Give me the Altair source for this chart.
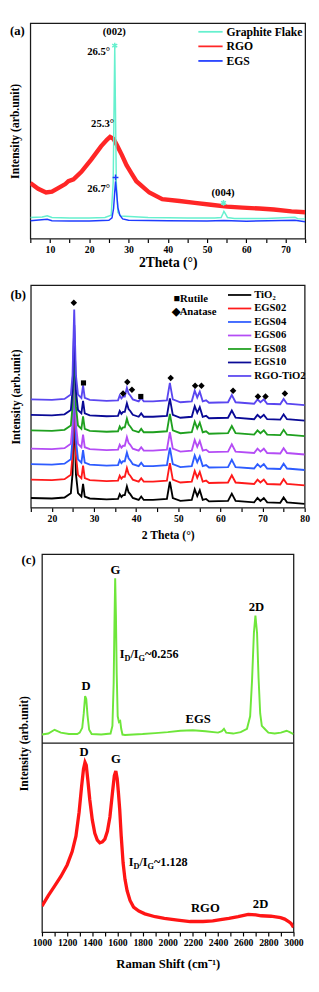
import altair as alt
import pandas as pd

FONT = "Liberation Serif"
INK = "#1a1a1a"

# ================= (a) XRD: graphite flake / RGO / EGS =================
a_series = ["Graphite Flake", "RGO", "EGS"]
a_colors = ["#66F0CE", "#FF2626", "#1F3CFF"]

a_gf_x = [5, 8, 9.3, 10.5, 15, 20, 24, 25.6, 26.1, 26.35, 26.5, 26.65, 26.9, 27.3, 28, 35, 45, 52,
          53.6, 54.1, 54.3, 54.6, 55.2, 57, 65, 72.4, 73.2, 75]
a_gf_y = [22.5, 23, 24.3, 22.5, 22, 22, 22.5, 25, 60, 150, 204, 150, 60, 28, 24, 22.5, 22, 22,
          22.5, 27, 29, 27, 22.5, 21.5, 21.5, 22.7, 21, 21]

a_rgo_x = [5, 7, 9, 10.5, 12.2, 13.9, 14.7, 16, 18, 20.5, 23, 24.5, 25.3, 26.2, 27.1, 28.3, 29.5,
           30.8, 32, 35.3, 38.6, 43, 46.9, 51, 55.1, 59, 63.3, 67, 71.5, 75]
a_rgo_y = [59, 53, 49, 50, 54, 58, 61, 63, 71, 84, 98, 105, 108, 106, 99, 89, 78,
           69, 61, 49, 42, 40, 38, 36, 34, 33, 32, 31, 29, 28]

a_egs_x = [5, 9.3, 10.5, 15, 20, 25, 25.8, 26.2, 26.5, 26.7, 26.95, 27.3, 27.8, 28.5, 30, 40, 50,
           54.3, 60, 72.4, 75]
a_egs_y = [19, 20.5, 19, 18.7, 18.7, 19.5, 22, 32, 50, 61, 50, 33, 25, 21, 19.5, 19, 18.7,
           19.3, 18.5, 19.5, 18]

a_ann_text = ["(002)", "26.5°", "25.3°", "26.7°", "(004)"]
a_ann_x = [26.4, 22.4, 23.4, 22.4, 54.1]
a_ann_y = [219, 198, 122, 53, 48]

a_mark_series = ["Graphite Flake", "EGS", "Graphite Flake"]
a_mark_kind = ["*", "+", "*"]
a_mark_x = [26.5, 26.7, 54.2]
a_mark_y = [205, 65, 38]

# ================= (b) XRD: TiO2 composites =================
b_series = ["TiO₂", "EGS02", "EGS04", "EGS06", "EGS08", "EGS10", "RGO-TiO2"]
b_colors = ["#000000", "#FF1A1A", "#2E5CFF", "#B44CF5", "#1FA01F", "#0A0A96", "#5A46F0"]

b_x = [15, 20, 23, 24.5, 24.9, 25.3, 25.7, 26.2, 27.0, 27.4, 27.8, 29, 33, 35.7, 36.1, 36.5, 36.9,
       37.3, 37.8, 38.2, 38.6, 39.2, 40.6, 41.2, 41.8, 44, 47.3, 48.0, 48.7, 50.5, 53.2, 53.9, 54.5,
       55.1, 55.8, 56.6, 57.3, 61.8, 62.7, 63.6, 68.0, 68.8, 69.5, 70.3, 71.1, 74.2, 75.0, 75.8, 80]

b_tio2 = [10, 9.5, 10.5, 15, 35, 103, 35, 15, 11.5, 24.5, 11.5, 9.5, 8.5, 9, 14, 11, 13, 13, 22, 16,
          14, 10, 8, 11.5, 8, 8, 9, 27, 10, 7, 8, 19, 12, 18, 8, 9, 6.5, 7, 14.5, 7, 5.5, 10, 7, 10,
          5.5, 5, 10.5, 5.5, 4]
b_egs02 = [29, 28.5, 29.5, 34, 54, 122, 54, 34, 30.5, 43.5, 30.5, 28.5, 27.5, 28, 33, 30, 32, 32, 41,
           35, 33, 29, 27, 30.5, 27, 27, 28, 46, 29, 26, 27, 38, 31, 37, 27, 28, 25.5, 26, 33.5, 26,
           24.5, 29, 26, 29, 24.5, 24, 29.5, 24.5, 23]
b_egs04 = [45, 44.5, 45.5, 50, 70, 138, 70, 50, 46.5, 59.5, 46.5, 44.5, 43.5, 44, 49, 46, 48, 48, 57,
           51, 49, 45, 43, 46.5, 43, 43, 44, 62, 45, 42, 43, 54, 47, 53, 43, 44, 41.5, 42, 49.5, 42,
           40.5, 45, 42, 45, 40.5, 40, 45.5, 40.5, 39]
b_egs06 = [61, 60.5, 61.5, 66, 86, 154, 86, 66, 62.5, 75.5, 62.5, 60.5, 59.5, 60, 65, 62, 64, 64, 73,
           67, 65, 61, 59, 62.5, 59, 59, 60, 78, 61, 58, 59, 70, 63, 69, 59, 60, 57.5, 58, 65.5, 58,
           56.5, 61, 58, 61, 56.5, 56, 61.5, 56.5, 55]
b_egs08 = [80, 79.5, 80.5, 85, 105, 173, 105, 85, 81.5, 94.5, 81.5, 79.5, 78.5, 79, 84, 81, 83, 83, 92,
           86, 84, 80, 78, 81.5, 78, 78, 79, 97, 80, 77, 78, 89, 82, 88, 78, 79, 76.5, 77, 84.5, 77,
           75.5, 80, 77, 80, 75.5, 75, 80.5, 75.5, 74]
b_egs10 = [96, 95.5, 96.5, 101, 121, 189, 121, 101, 97.5, 110.5, 97.5, 95.5, 94.5, 95, 100, 97, 99, 99,
           108, 102, 100, 96, 94, 97.5, 94, 94, 95, 113, 96, 93, 94, 105, 98, 104, 94, 95, 92.5, 93,
           100.5, 93, 91.5, 96, 93, 96, 91.5, 91, 96.5, 91.5, 90]
b_rgotio2 = [112, 111.5, 112.5, 117, 137, 205, 137, 117, 113.5, 126.5, 113.5, 111.5, 110.5, 111, 116,
             113, 115, 115, 124, 118, 116, 112, 110, 113.5, 110, 110, 111, 129, 112, 109, 110, 121,
             114, 120, 110, 111, 108.5, 109, 116.5, 109, 107.5, 112, 109, 112, 107.5, 107, 112.5,
             107.5, 106]

b_dia_x = [25.2, 36.9, 37.9, 39.0, 48.2, 54.0, 55.5, 63.0, 68.9, 70.7, 75.3]
b_dia_y = [212, 118, 130, 122, 134, 126, 126, 121, 115, 115, 118]
b_sq_x = [27.5, 41.1]
b_sq_y = [129, 115]
b_key_text = ["■Rutile", "◆Anatase"]

# ================= (c) Raman =================
c_series = ["EGS", "RGO"]
c_colors = ["#6EE63A", "#FF1515"]

c_egs_x = [1000, 1050, 1100, 1150, 1214, 1280, 1300, 1320, 1332, 1343, 1352, 1362, 1375, 1395, 1471,
           1545, 1560, 1570, 1576, 1582, 1588, 1594, 1602, 1612, 1622, 1630, 1640, 1660, 1728, 1800,
           1900, 2000, 2100, 2200, 2300, 2400, 2430, 2447, 2465, 2520, 2580, 2630, 2655, 2670, 2685,
           2697, 2710, 2722, 2735, 2748, 2770, 2800, 2850, 2900, 2945, 2970, 3000]
c_egs_y = [206, 207, 211, 208, 206.5, 206.5, 208, 213, 228, 246, 243, 226, 211, 206.5, 206,
           207, 215, 260, 320, 369, 330, 270, 225, 219, 220, 212, 206, 205.5, 206, 206.5,
           207.5, 208.5, 210, 210.5, 209.5, 208, 209.5, 212, 208, 207, 208.5, 212, 225, 262, 312,
           330, 312, 265, 228, 215, 212, 208, 207, 208, 210, 208.5, 206.5]

c_rgo_x = [1000, 1050, 1100, 1150, 1200, 1240, 1270, 1295, 1315, 1330, 1342, 1352, 1365, 1380, 1400,
           1420, 1440, 1460, 1480, 1500, 1520, 1540, 1560, 1575, 1587, 1598, 1608, 1618, 1630, 1645,
           1660, 1677, 1700, 1728, 1770, 1818, 1900, 1973, 2078, 2178, 2280, 2358, 2420, 2486, 2560,
           2640, 2700, 2743, 2820, 2897, 2930, 2961, 2980, 3000]
c_rgo_y = [27, 38, 48, 58, 70, 84, 100, 125, 152, 170, 177, 174, 158, 138, 117,
           103, 96, 93, 94, 97, 105, 120, 145, 163, 168, 160, 145, 128, 100, 72,
           55, 43, 33, 26, 22, 19, 16, 14.3, 12.5, 11, 11, 11.7, 13, 14.3, 16,
           18.5, 18, 17, 16.5, 15, 13.5, 11, 9, 5]
c_split = [197]

c_ann_text = ["G", "D", "2D", "EGS", "D", "G", "RGO", "2D"]
c_ann_x = [1584, 1351, 2705, 2242, 1335, 1587, 2299, 2738]
c_ann_y = [377, 257, 339, 222, 188, 180, 25, 29]

c_ratio_value = ["0.256", "1.128"]
c_ratio_x = [1618, 1690]
c_ratio_y = [286, 69]

# ================= helpers =================
ASTER = "M0,-1L0,1M-0.87,-0.5L0.87,0.5M-0.87,0.5L0.87,-0.5"
PLUS = "M-1,0L1,0M0,-1L0,1"


def series_df(xs, ys, name, key):
    return pd.DataFrame({"x": xs, "y": ys, key: name})


def x_axis(title, values, every, title_size, title_pad):
    return alt.Axis(title=title, values=values, format="d",
                    labelExpr=f"datum.value % {every} === 0 ? datum.label : ''",
                    titleFontSize=title_size, titlePadding=title_pad)


def y_axis(pad):
    return alt.Axis(title="Intensity (arb.unit)", labels=False, ticks=False, domain=False,
                    titlePadding=pad)


def texts(df, size, **kw):
    return alt.Chart(df).mark_text(font=FONT, fontWeight="bold", fontSize=size, color="black", **kw)


def legend_layers(names, color_enc, key, x1, x2, xt, y0, dy, size):
    df = pd.DataFrame({key: names, "i": list(range(len(names)))})
    base = alt.Chart(df).transform_calculate(ly=f"{y0} + datum.i * {dy}")
    ry = alt.Y("ly:Q", scale=None, axis=None)
    rule = base.mark_rule(strokeWidth=1.8).encode(
        x=alt.value(x1), x2=alt.value(x2), y=ry, color=color_enc)
    txt = base.mark_text(font=FONT, fontWeight="bold", fontSize=size, color="black",
                         align="left", baseline="middle").encode(
        x=alt.value(xt), y=ry, text=f"{key}:N")
    return [rule, txt]


def panel_label(tag, y):
    return texts(pd.DataFrame({"t": [tag]}), 13, align="left", baseline="middle").encode(
        x=alt.value(-21), y=alt.value(y), text="t:N")


# ================= panel (a) =================
xa = alt.X("x:Q", scale=alt.Scale(domain=[5, 75], nice=False, zero=False),
           axis=x_axis("2Theta (°)", list(range(5, 80, 5)), 10, 14, 2))
ya = alt.Y("y:Q", scale=alt.Scale(domain=[0, 229], nice=False, zero=False), axis=y_axis(9))
ca = alt.Color("sa:N", scale=alt.Scale(domain=a_series, range=a_colors), legend=None)

a_layers = []
for xs, ys, name, w in [(a_rgo_x, a_rgo_y, "RGO", 4.5),
                        (a_gf_x, a_gf_y, "Graphite Flake", 1.5),
                        (a_egs_x, a_egs_y, "EGS", 1.5)]:
    a_layers.append(alt.Chart(series_df(xs, ys, name, "sa")).mark_line(strokeWidth=w, clip=True)
                    .encode(x=xa, y=ya, color=ca))
a_marks = pd.DataFrame({"x": a_mark_x, "y": a_mark_y, "sa": a_mark_series, "m": a_mark_kind})
a_layers.append(alt.Chart(a_marks).mark_point(filled=False, strokeWidth=1.5, size=36, opacity=1)
                .encode(x=xa, y=ya, color=ca,
                        shape=alt.Shape("m:N", scale=alt.Scale(domain=["*", "+"], range=[ASTER, PLUS]),
                                        legend=None)))
a_layers.append(texts(pd.DataFrame({"x": a_ann_x, "y": a_ann_y, "t": a_ann_text}), 11)
                .encode(x=xa, y=ya, text="t:N"))
a_layers += legend_layers(a_series, ca, "sa", 173, 198, 202, 9, 15, 12)
a_layers.append(panel_label("(a)", 8))
panel_a = alt.layer(*a_layers).properties(width=283, height=222)

# ================= panel (b) =================
xb = alt.X("x:Q", scale=alt.Scale(domain=[15, 80], nice=False, zero=False),
           axis=x_axis("2 Theta (°)", list(range(15, 85, 5)), 10, 12, 7))
yb = alt.Y("y:Q", scale=alt.Scale(domain=[0, 230], nice=False, zero=False), axis=y_axis(9))
cb = alt.Color("sb:N", scale=alt.Scale(domain=b_series, range=b_colors), legend=None)

b_all = [b_tio2, b_egs02, b_egs04, b_egs06, b_egs08, b_egs10, b_rgotio2]
b_layers = []
for name, ys in zip(b_series, b_all):
    b_layers.append(alt.Chart(series_df(b_x, ys, name, "sb")).mark_line(strokeWidth=1.9, clip=True)
                    .encode(x=xb, y=yb, color=cb))
b_layers.append(alt.Chart(pd.DataFrame({"x": b_dia_x, "y": b_dia_y}))
                .mark_point(shape="diamond", filled=True, color="black", size=45, opacity=1)
                .encode(x=xb, y=yb))
b_layers.append(alt.Chart(pd.DataFrame({"x": b_sq_x, "y": b_sq_y}))
                .mark_point(shape="square", filled=True, color="black", size=28, opacity=1)
                .encode(x=xb, y=yb))
b_layers.append(texts(pd.DataFrame({"t": [b_key_text[0]]}), 11, align="left", baseline="middle")
                .encode(x=alt.value(147), y=alt.value(14), text="t:N"))
b_layers.append(texts(pd.DataFrame({"t": [b_key_text[1]]}), 11, align="left", baseline="middle")
                .encode(x=alt.value(145), y=alt.value(28), text="t:N"))
b_layers += legend_layers(b_series, cb, "sb", 203, 227, 230, 10, 13.9, 11)
b_layers.append(panel_label("(b)", 10))
panel_b = alt.layer(*b_layers).properties(width=282, height=229)

# ================= panel (c) =================
xc = alt.X("x:Q", scale=alt.Scale(domain=[1000, 3000], nice=False, zero=False),
           axis=x_axis("Raman Shift (cm⁻¹)", list(range(1000, 3001, 100)), 200, 13, 10))
yc = alt.Y("y:Q", scale=alt.Scale(domain=[0, 394], nice=False, zero=False), axis=y_axis(11.5))
cc = alt.Color("sc:N", scale=alt.Scale(domain=c_series, range=c_colors), legend=None)

c_layers = [
    alt.Chart(pd.DataFrame({"y": c_split})).mark_rule(color=INK, strokeWidth=1.3).encode(y=yc),
    alt.Chart(series_df(c_egs_x, c_egs_y, "EGS", "sc")).mark_line(strokeWidth=2, clip=True)
    .encode(x=xc, y=yc, color=cc),
    alt.Chart(series_df(c_rgo_x, c_rgo_y, "RGO", "sc")).mark_line(strokeWidth=3.4, clip=True)
    .encode(x=xc, y=yc, color=cc),
    texts(pd.DataFrame({"x": c_ann_x, "y": c_ann_y, "t": c_ann_text}), 13)
    .encode(x=xc, y=yc, text="t:N"),
]
for val, xv, yv in zip(c_ratio_value, c_ratio_x, c_ratio_y):
    parts = [("I", 0, 0, 12.5), ("D", 4.9, 3, 8.5), ("/I", 11.0, 0, 12.5),
             ("G", 19.4, 3, 8.5), ("~" + val, 26.0, 0, 12.5)]
    for t, dx, dy, fs in parts:
        c_layers.append(texts(pd.DataFrame({"x": [xv], "y": [yv], "t": [t]}), fs, align="left",
                              baseline="alphabetic", dx=dx, dy=dy)
                        .encode(x=xc, y=yc, text="t:N"))
c_layers.append(panel_label("(c)", 6))
panel_c = alt.layer(*c_layers).properties(width=259, height=389)

chart = (
    alt.vconcat(panel_a, panel_b, panel_c, spacing=48, bounds="flush", center=True)
    .resolve_scale(color="independent")
    .properties(padding=0)
    .configure_axis(labelFont=FONT, titleFont=FONT, labelFontWeight="bold", titleFontWeight="bold",
                    labelFontSize=10, titleFontSize=12, labelColor="black", titleColor="black",
                    tickColor="black", tickSize=4, tickWidth=1.2, labelPadding=2, grid=False,
                    domain=False, labelFlush=False, labelOverlap=False)
    .configure_view(stroke=INK, strokeWidth=1.3)
)

chart.save("out.html", embed_options={"renderer": "svg", "actions": False})
